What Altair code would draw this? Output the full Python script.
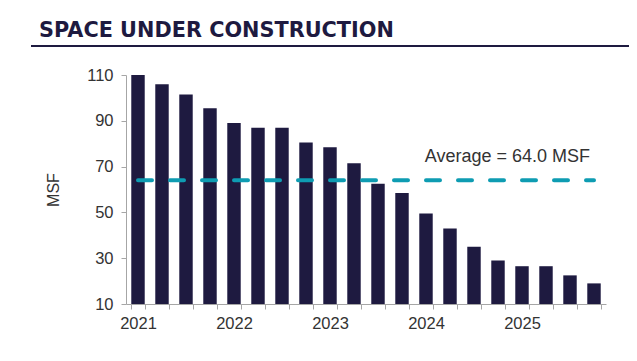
import altair as alt
import pandas as pd

years = ["2021", "2022", "2023", "2024", "2025"]
quarters = ["Q1", "Q2", "Q3", "Q4"]
periods = [f"{y} {q}" for y in years for q in quarters]
msf = [110, 106, 101.5, 95.5, 89, 87, 87, 80.5, 78.5, 71.5,
       62.5, 58.5, 49.5, 43, 35, 29, 26.5, 26.5, 22.5, 19]
average = 64.0
y_ticks = [10, 30, 50, 70, 90, 110]
title_text = "SPACE UNDER CONSTRUCTION"
avg_label = "Average = 64.0 MSF"

df = pd.DataFrame({"period": periods, "msf": msf, "avg": [average] * len(periods)})
last_df = pd.DataFrame({"period": [periods[-1]], "avg": [average], "label": [avg_label]})

NAVY = "#1e1a40"
TEAL = "#0e9cb2"
GRAY = "#a6a6a6"
TXT = "#333333"
FONT = "Liberation Sans"

xscale = alt.Scale(domain=periods, paddingInner=0.44, paddingOuter=0.22)
yscale = alt.Scale(domain=[10, 110], nice=False, zero=False)

xenc = alt.X(
    "period:N", sort=None, title=None, scale=xscale,
    axis=alt.Axis(
        labelExpr="isString(datum.value) && indexof(datum.value, 'Q1') >= 0 ? substring(datum.value, 0, 4) : ''",
        labelAngle=0, tickBand="extent", domainColor=GRAY, tickColor=GRAY,
        tickSize=5, labelPadding=6, labelFontSize=16.5, labelColor=TXT,
        labelFont=FONT, labelOverlap=False,
    ),
)

bars = alt.Chart(df).mark_bar(color=NAVY).encode(
    x=xenc,
    y=alt.Y("msf:Q", scale=yscale,
            axis=alt.Axis(values=y_ticks, grid=False, domainColor=GRAY,
                          tickColor=GRAY, tickSize=5, labelPadding=8,
                          labelFontSize=16.5, labelColor=TXT, labelFont=FONT,
                          title="MSF", titleFontSize=16, titleFont=FONT,
                          titleColor=TXT, titleFontWeight="normal",
                          titlePadding=25)),
    y2=alt.datum(10),
)

avg_line = alt.Chart(df).mark_line(
    color=TEAL, strokeWidth=4, strokeDash=[14, 18], strokeCap="round"
).encode(x=alt.X("period:N", sort=None, scale=xscale),
         y=alt.Y("avg:Q", scale=yscale))

avg_text = alt.Chart(last_df).mark_text(
    align="right", baseline="alphabetic", dy=-18, dx=-4,
    fontSize=18, font=FONT, color=TXT,
).encode(
    x=alt.X("period:N", sort=None, scale=xscale),
    y=alt.Y("avg:Q", scale=yscale),
    text="label:N",
)

title = alt.Chart(last_df).mark_text(
    align="left", baseline="alphabetic", fontSize=20.8, font="DejaVu Sans",
    fontWeight="bold", color=NAVY,
).encode(x=alt.value(-87), y=alt.value(-38), text=alt.value(title_text))

underline = alt.Chart(last_df).mark_rule(color=NAVY, strokeWidth=2).encode(
    x=alt.value(-95), x2=alt.value(515), y=alt.value(-29)
)

chart = alt.layer(bars, avg_line, avg_text, title, underline).properties(
    width=480, height=229,
    autosize=alt.AutoSizeParams(type="none"),
    padding={"left": 118, "top": 67, "right": 23, "bottom": 49},
).configure_view(stroke=None)

chart.save("out.html", embed_options={"renderer": "svg", "actions": False})
